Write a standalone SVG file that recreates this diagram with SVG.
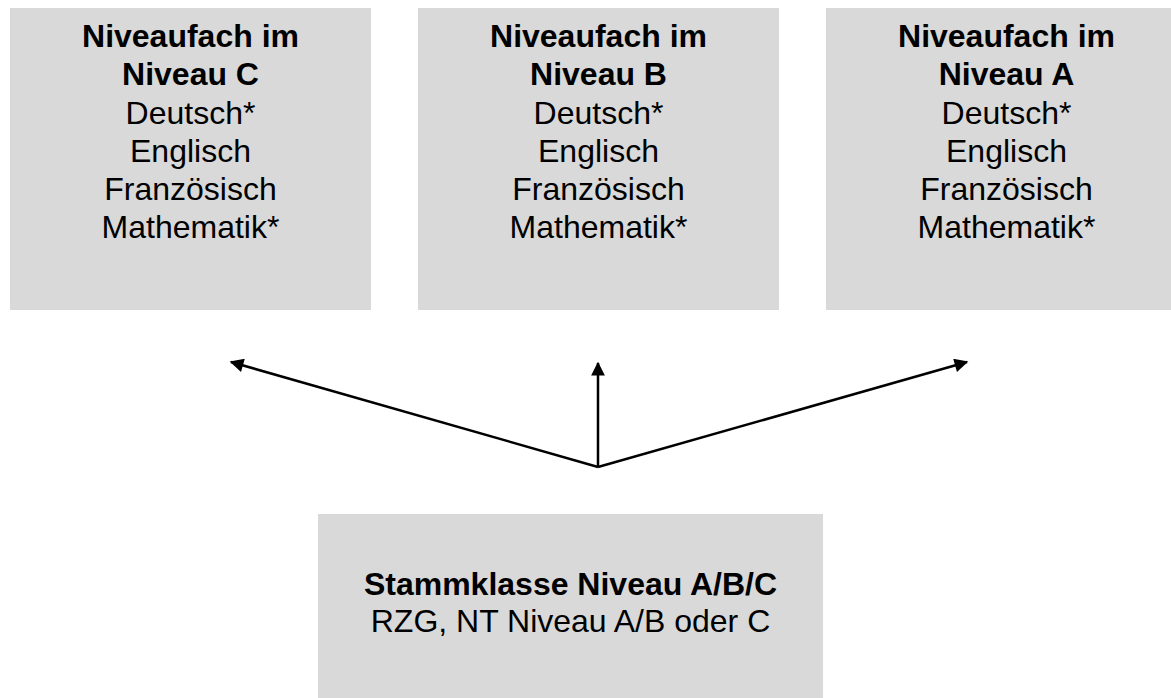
<svg xmlns="http://www.w3.org/2000/svg" width="1171" height="698" viewBox="0 0 1171 698">
<style>
.box{fill:#D9D9D9;stroke:none}
text{font-family:"Liberation Sans",Arial,sans-serif;font-size:32px;fill:#000;text-anchor:middle}
.b{font-weight:bold}
.conn{stroke:#000;stroke-width:2.5;fill:none}
</style>
<defs>
<marker id="ah" viewBox="0 0 10 10" refX="9" refY="5" markerWidth="6.5" markerHeight="5.5" markerUnits="strokeWidth" orient="auto">
<path d="M0,0 L10,5 L0,10 z" fill="#000"/>
</marker>
</defs>
<g id="nodeC">
<rect class="box" x="10" y="8" width="361" height="302"/>
<text class="b" x="190.5" y="47">Niveaufach im</text>
<text class="b" x="190.5" y="85">Niveau C</text>
<text x="190.5" y="124">Deutsch*</text>
<text x="190.5" y="162">Englisch</text>
<text x="190.5" y="200">Französisch</text>
<text x="190.5" y="238">Mathematik*</text>
</g>
<g id="nodeB">
<rect class="box" x="418" y="8" width="361" height="302"/>
<text class="b" x="598.5" y="47">Niveaufach im</text>
<text class="b" x="598.5" y="85">Niveau B</text>
<text x="598.5" y="124">Deutsch*</text>
<text x="598.5" y="162">Englisch</text>
<text x="598.5" y="200">Französisch</text>
<text x="598.5" y="238">Mathematik*</text>
</g>
<g id="nodeA">
<rect class="box" x="826" y="8" width="361" height="302"/>
<text class="b" x="1006.5" y="47">Niveaufach im</text>
<text class="b" x="1006.5" y="85">Niveau A</text>
<text x="1006.5" y="124">Deutsch*</text>
<text x="1006.5" y="162">Englisch</text>
<text x="1006.5" y="200">Französisch</text>
<text x="1006.5" y="238">Mathematik*</text>
</g>
<g id="nodeStamm">
<rect class="box" x="318" y="514" width="505" height="190"/>
<text class="b" x="570.5" y="595">Stammklasse Niveau A/B/C</text>
<text x="570.5" y="632">RZG, NT Niveau A/B oder C</text>
</g>
<g id="connectors">
<line class="conn" x1="598" y1="467" x2="231" y2="362" marker-end="url(#ah)"/>
<line class="conn" x1="598" y1="467" x2="598" y2="363" marker-end="url(#ah)"/>
<line class="conn" x1="598" y1="467" x2="967" y2="362" marker-end="url(#ah)"/>
</g>
</svg>
